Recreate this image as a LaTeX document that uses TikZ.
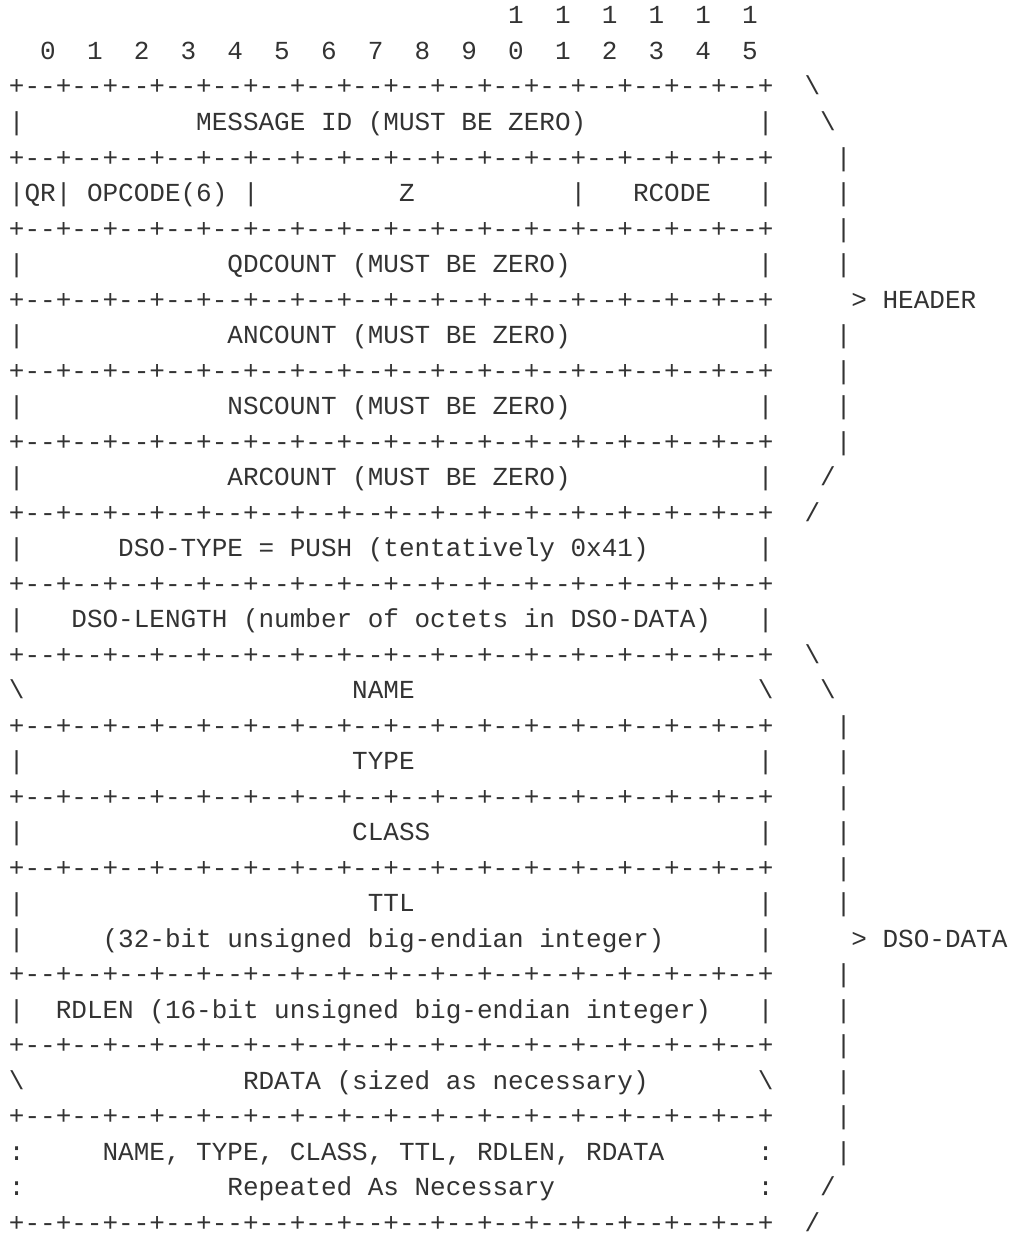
\documentclass[tikz,border=0pt]{standalone}
\usepackage{fontspec}
\setmonofont{Liberation Mono}
\definecolor{ink}{HTML}{333333}
\newcommand\ruler{+--+--+--+--+--+--+--+--+--+--+--+--+--+--+--+--+}
\newcommand\bs{\textbackslash}
\tikzset{txt/.style={anchor=base west, inner sep=0pt, outer sep=0pt, text=ink,
  font=\ttfamily\fontsize{26}{26}\selectfont\frenchspacing}}
\newcommand\T[3]{\node[txt] (r#1c#2) at ({9+#2*15.6},{24+(#1-1)*35.5}) {#3};}
\begin{document}
\begin{tikzpicture}[x=1pt,y=-1pt]
\fill[white] (0,0) rectangle (1012,1236);
\useasboundingbox (0,0) rectangle (1012,1236);
% bit ruler
\foreach \k in {10,...,15} {\pgfmathtruncatemacro\c{2+3*\k}\T{1}{\c}{1}}
\foreach \k in {0,...,15} {\pgfmathtruncatemacro\c{2+3*\k}\pgfmathtruncatemacro\d{mod(\k,10)}\T{2}{\c}{\d}}
% separator rows
\foreach \r in {3,5,7,9,11,13,15,17,19,21,23,25,28,30,32,35} {\T{\r}{0}{\ruler}}
% header
\T{3}{51}{\bs}
\T{4}{0}{|}\T{4}{12}{MESSAGE ID (MUST BE ZERO)}\T{4}{48}{|}\T{4}{52}{\bs}
\T{5}{53}{|}
\T{6}{0}{|QR|}\T{6}{5}{OPCODE(6)}\T{6}{15}{|}\T{6}{25}{Z}\T{6}{36}{|}\T{6}{40}{RCODE}\T{6}{48}{|}\T{6}{53}{|}
\T{7}{53}{|}
\T{8}{0}{|}\T{8}{14}{QDCOUNT (MUST BE ZERO)}\T{8}{48}{|}\T{8}{53}{|}
\T{9}{54}{> HEADER}
\T{10}{0}{|}\T{10}{14}{ANCOUNT (MUST BE ZERO)}\T{10}{48}{|}\T{10}{53}{|}
\T{11}{53}{|}
\T{12}{0}{|}\T{12}{14}{NSCOUNT (MUST BE ZERO)}\T{12}{48}{|}\T{12}{53}{|}
\T{13}{53}{|}
\T{14}{0}{|}\T{14}{14}{ARCOUNT (MUST BE ZERO)}\T{14}{48}{|}\T{14}{52}{/}
\T{15}{51}{/}
% DSO TLV
\T{16}{0}{|}\T{16}{7}{DSO-TYPE = PUSH (tentatively 0x41)}\T{16}{48}{|}
\T{18}{0}{|}\T{18}{4}{DSO-LENGTH (number of octets in DSO-DATA)}\T{18}{48}{|}
\T{19}{51}{\bs}
\T{20}{0}{\bs}\T{20}{22}{NAME}\T{20}{48}{\bs}\T{20}{52}{\bs}
\T{21}{53}{|}
\T{22}{0}{|}\T{22}{22}{TYPE}\T{22}{48}{|}\T{22}{53}{|}
\T{23}{53}{|}
\T{24}{0}{|}\T{24}{22}{CLASS}\T{24}{48}{|}\T{24}{53}{|}
\T{25}{53}{|}
\T{26}{0}{|}\T{26}{23}{TTL}\T{26}{48}{|}\T{26}{53}{|}
\T{27}{0}{|}\T{27}{6}{(32-bit unsigned big-endian integer)}\T{27}{48}{|}\T{27}{54}{> DSO-DATA}
\T{28}{53}{|}
\T{29}{0}{|}\T{29}{3}{RDLEN (16-bit unsigned big-endian integer)}\T{29}{48}{|}\T{29}{53}{|}
\T{30}{53}{|}
\T{31}{0}{\bs}\T{31}{15}{RDATA (sized as necessary)}\T{31}{48}{\bs}\T{31}{53}{|}
\T{32}{53}{|}
\T{33}{0}{:}\T{33}{6}{NAME, TYPE, CLASS, TTL, RDLEN, RDATA}\T{33}{48}{:}\T{33}{53}{|}
\T{34}{0}{:}\T{34}{14}{Repeated As Necessary}\T{34}{48}{:}\T{34}{52}{/}
\T{35}{51}{/}
\end{tikzpicture}
\end{document}
